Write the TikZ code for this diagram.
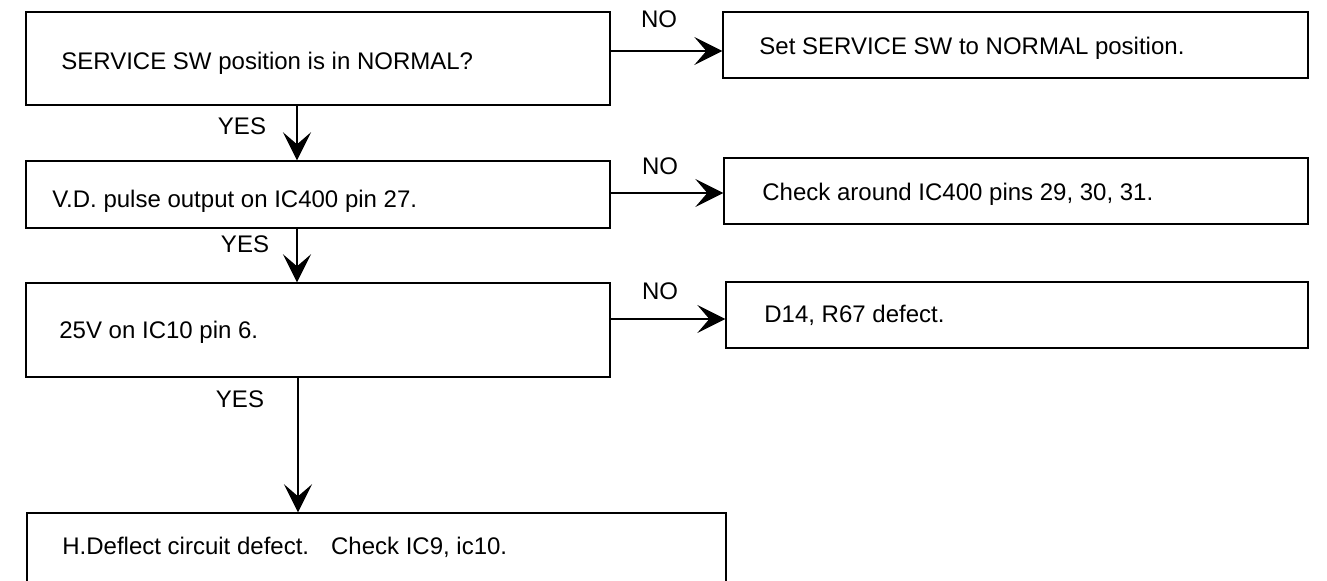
\documentclass[tikz,border=0pt]{standalone}
\usepackage{fontspec}
\setmainfont{Liberation Sans}
\usetikzlibrary{arrows.meta,fit}
\begin{document}
\begin{tikzpicture}[x=0.5pt,y=-0.5pt,
  box/.style={draw, line width=0.7pt, inner sep=0pt},
  txt/.style={anchor=base west, inner sep=0pt, font=\fontsize{12}{14}\selectfont},
  lbl/.style={anchor=base, inner sep=0pt, font=\fontsize{12}{14}\selectfont},
  arr/.style={line width=0.6pt, -{Stealth[length=14pt,width=14pt,inset=6pt]}}]
\useasboundingbox (0,0) rectangle (1327,581);

% question boxes (left column)
\node[box, fit={(26,12) (610,105)}] (q1) {};
\node[box, fit={(26,161) (610,228)}] (q2) {};
\node[box, fit={(26,283) (610,377)}] (q3) {};
\node[box, fit={(27,513) (726,600)}] (q4) {};

% remedy boxes (right column)
\node[box, fit={(723,12) (1308,78)}] (r1) {};
\node[box, fit={(724,158) (1308,224)}] (r2) {};
\node[box, fit={(726,282) (1308,348)}] (r3) {};

% box texts
\node[txt] (t1) at (61,70) {SERVICE SW position is in NORMAL?};
\node[txt] (t2) at (52,208) {V.D. pulse output on IC400 pin 27.};
\node[txt] (t3) at (59,339) {25V on IC10 pin 6.};
\node[txt] (t4) at (62,555) {H.Deflect circuit defect.\hspace{11pt}Check IC9, ic10.};
\node[txt] (s1) at (759,55) {Set SERVICE SW to NORMAL position.};
\node[txt] (s2) at (762,201) {Check around IC400 pins 29, 30, 31.};
\node[txt] (s3) at (764,323) {D14, R67 defect.};

% rows and columns of the connectors
\coordinate (h1) at (0,51);
\coordinate (h2) at (0,193);
\coordinate (h3) at (0,319);
\coordinate (v1) at (297,0);
\coordinate (v2) at (297,0);
\coordinate (v3) at (298,0);

% NO branches
\draw[arr] (q1.east |- h1) -- (r1.west |- h1);
\draw[arr] (q2.east |- h2) -- (r2.west |- h2);
\draw[arr] (q3.east |- h3) -- (r3.west |- h3);
\node[lbl] (n1) at (659,28) {NO};
\node[lbl] (n2) at (660,175) {NO};
\node[lbl] (n3) at (660,300) {NO};

% YES branches
\draw[arr] (q1.south -| v1) -- (q2.north -| v1);
\draw[arr] (q2.south -| v2) -- (q3.north -| v2);
\draw[arr] (q3.south -| v3) -- (q4.north -| v3);
\node[lbl] (y1) at (242,135) {YES};
\node[lbl] (y2) at (245,253) {YES};
\node[lbl] (y3) at (240,408) {YES};
\end{tikzpicture}
\end{document}
